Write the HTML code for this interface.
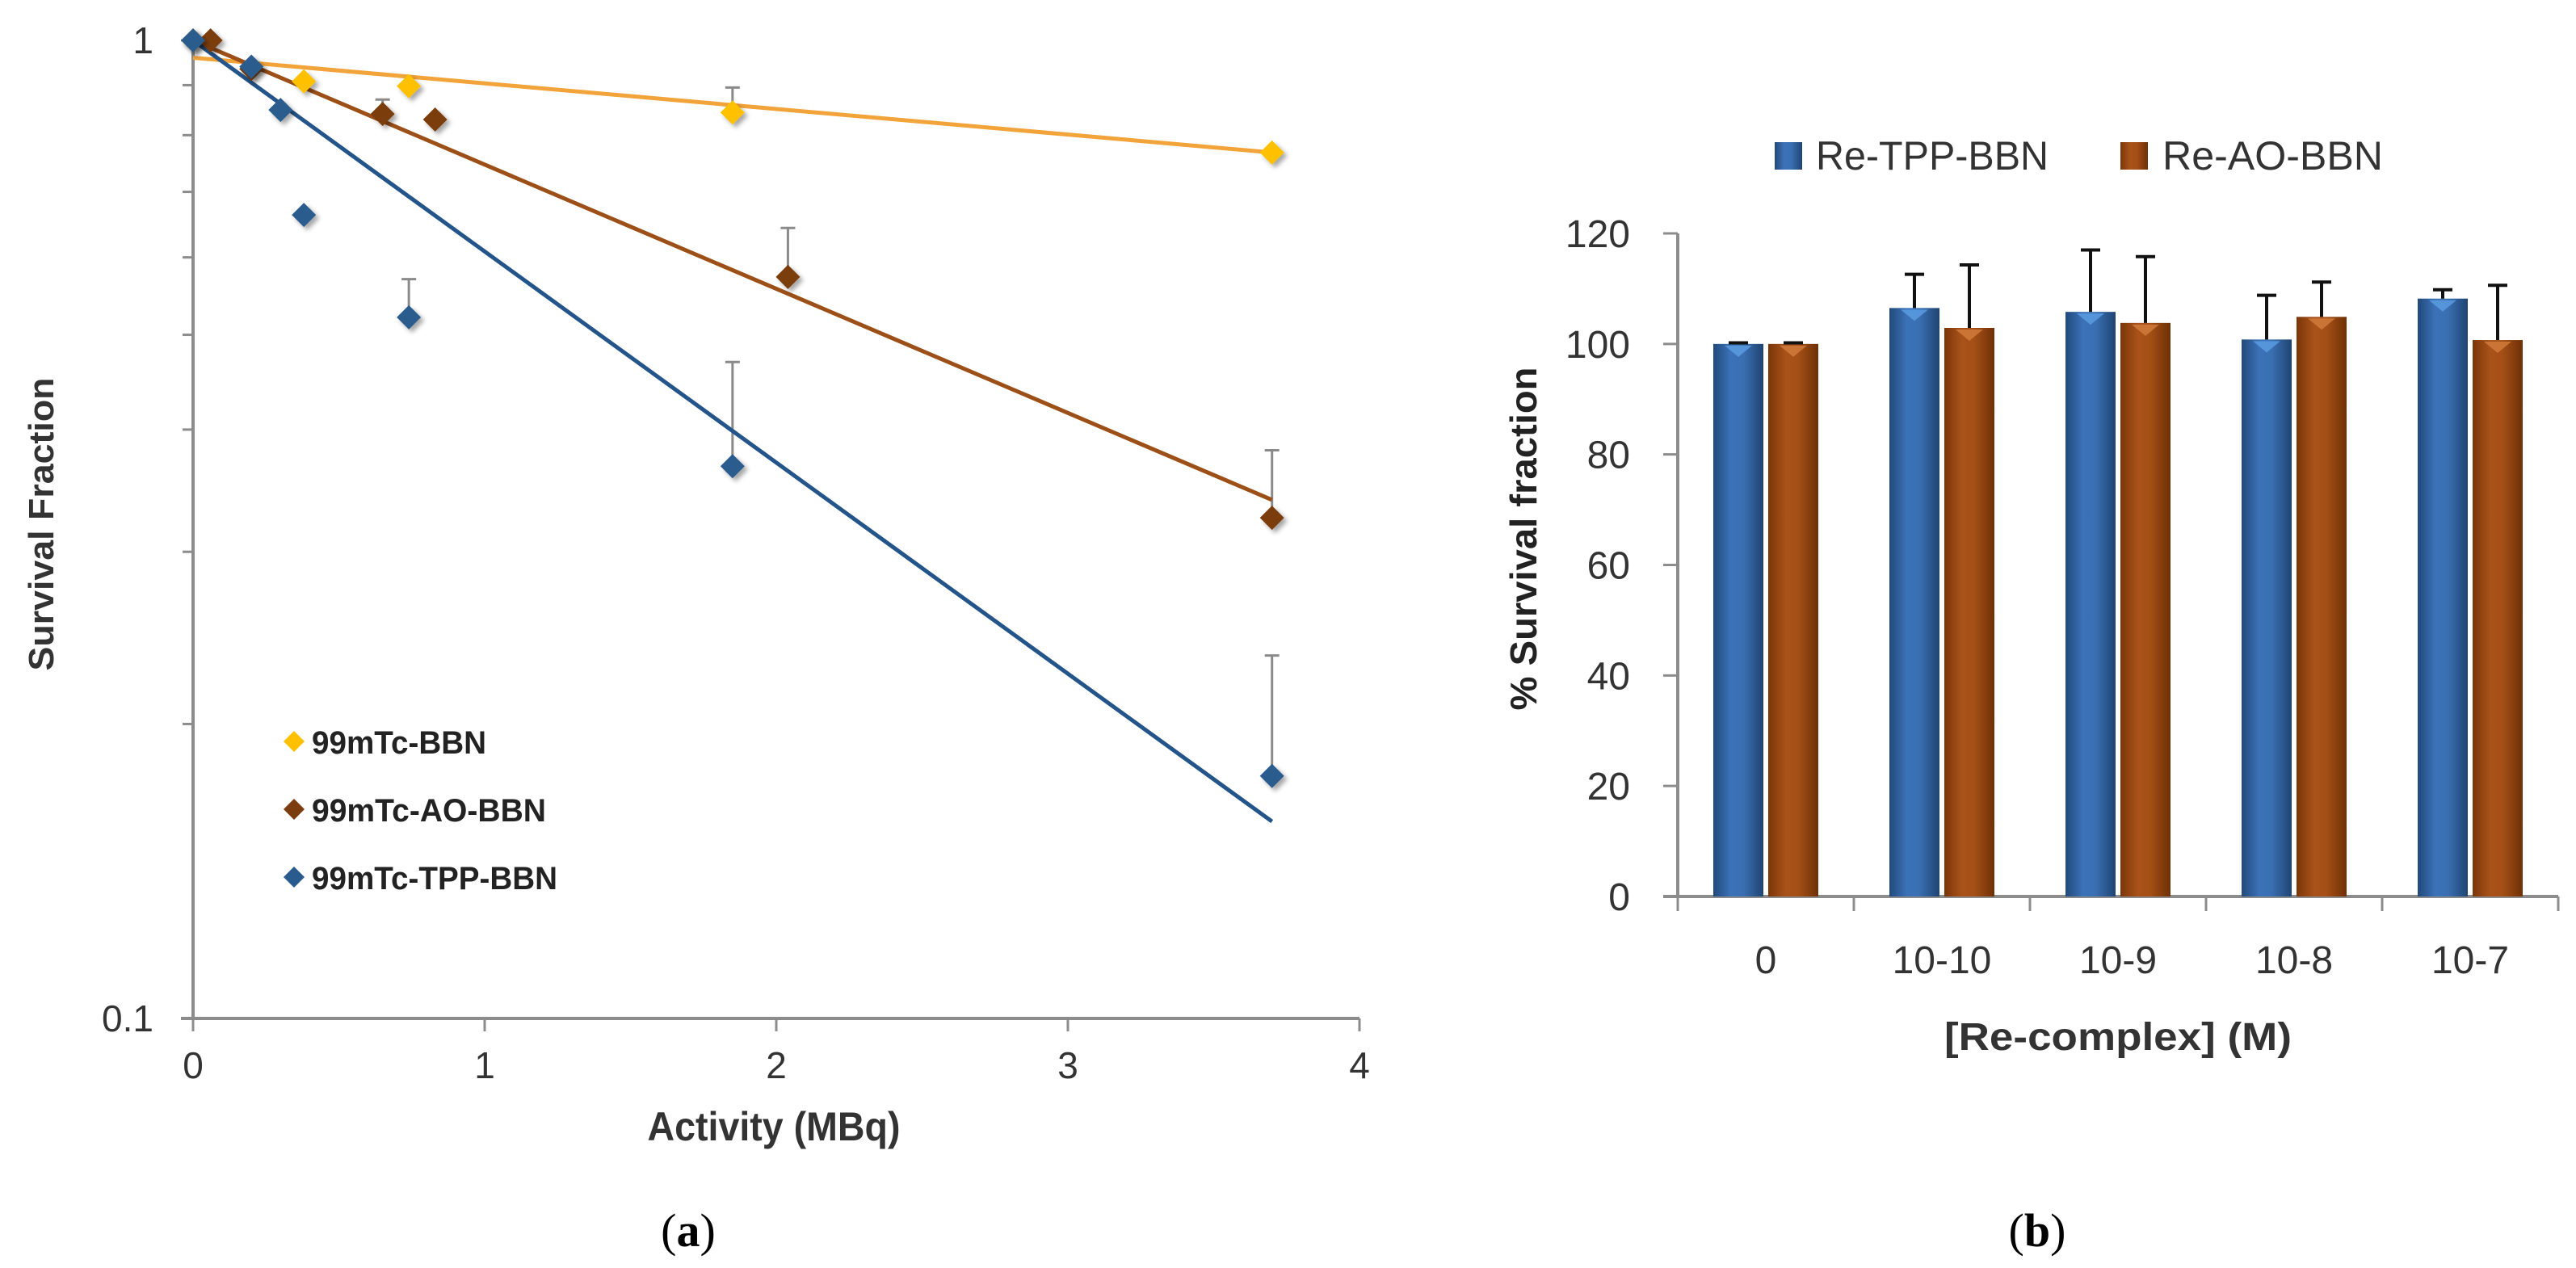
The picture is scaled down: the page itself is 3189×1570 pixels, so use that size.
<!DOCTYPE html>
<html><head><meta charset="utf-8">
<style>
html,body{margin:0;padding:0;background:#fff;}
svg{display:block;}
</style></head>
<body>
<svg id="fig" width="3189" height="1570" viewBox="0 0 3189 1570" xmlns="http://www.w3.org/2000/svg">
<defs>
<linearGradient id="gBlue" x1="0" x2="1" y1="0" y2="0">
<stop offset="0" stop-color="#22497a"/><stop offset="0.35" stop-color="#3b72b8"/><stop offset="0.6" stop-color="#3a6fb2"/><stop offset="1" stop-color="#1f4472"/>
</linearGradient>
<linearGradient id="gOrange" x1="0" x2="1" y1="0" y2="0">
<stop offset="0" stop-color="#7a3608"/><stop offset="0.35" stop-color="#a9521a"/><stop offset="0.6" stop-color="#a44f16"/><stop offset="1" stop-color="#6e3005"/>
</linearGradient>
<filter id="sh" x="-50%" y="-50%" width="200%" height="200%"><feDropShadow dx="4" dy="4" stdDeviation="3" flood-color="#000" flood-opacity="0.35"/></filter>
</defs>
<g id="chartA"></g>
<g id="chartB"></g>
<text x="852" y="1543" text-anchor="middle" font-family="Liberation Serif, serif" font-size="58">(<tspan font-weight="bold">a</tspan>)</text>
<text x="2522" y="1543" text-anchor="middle" font-family="Liberation Serif, serif" font-size="58">(<tspan font-weight="bold">b</tspan>)</text>
</svg>
<script>
// ---- Chart A data ----
const aSeriesNames = ["99mTc-BBN", "99mTc-AO-BBN", "99mTc-TPP-BBN"];
const aBbnX = [0, 0.38, 0.74, 1.85, 3.7];
const aBbnY = [1.0, 0.908, 0.898, 0.844, 0.768];
const aBbnErr = [null, null, null, 0.895, null];
const aAoX = [0.06, 0.2, 0.65, 0.83, 2.04, 3.7];
const aAoY = [1.0, 0.935, 0.841, 0.830, 0.573, 0.325];
const aAoErr = [null, null, 0.87, null, 0.643, 0.381];
const aTppX = [0, 0.2, 0.3, 0.38, 0.74, 1.85, 3.7];
const aTppY = [1.0, 0.94, 0.849, 0.663, 0.521, 0.367, 0.177];
const aTppErr = [null, null, null, null, 0.570, 0.469, 0.235];
const aFitBbn = [[0, 0.96], [3.7, 0.768]];
const aFitAo = [[0, 1.0], [3.7, 0.339]];
const aFitTpp = [[0, 1.0], [3.7, 0.159]];
const aXTicks = [0, 1, 2, 3, 4];
const aYTickLabels = ["1", "0.1"];
const aYMinor = [0.9, 0.8, 0.7, 0.6, 0.5, 0.4, 0.3, 0.2];

// ---- Chart B data ----
const bCategories = ["0", "10-10", "10-9", "10-8", "10-7"];
const bSeriesNames = ["Re-TPP-BBN", "Re-AO-BBN"];
const bTpp = [100, 106.5, 105.8, 100.8, 108.2];
const bTppErr = [100.2, 112.6, 117, 108.8, 109.8];
const bAo = [100, 102.9, 103.8, 104.9, 100.7];
const bAoErr = [100.2, 114.3, 115.8, 111.2, 110.6];
const bYTicks = [0, 20, 40, 60, 80, 100, 120];

const NS = "http://www.w3.org/2000/svg";
function mk(tag, attrs, parent) {
  const e = document.createElementNS(NS, tag);
  for (const k in attrs) e.setAttribute(k, attrs[k]);
  parent.appendChild(e);
  return e;
}

// ===== Chart A =====
(function () {
  const g = document.getElementById('chartA');
  const x0 = 239, xUnit = 361, yTop = 50, dec = 1211;
  const X = v => x0 + v * xUnit;
  const Y = v => yTop - Math.log10(v) * dec;
  const axisCol = "#8c8c8c";
  const yAxis = mk('line', {x1: X(0), y1: Y(1), x2: X(0), y2: Y(0.1), stroke: axisCol, 'stroke-width': 4}, g);
  
  
  const xAxis = mk('line', {x1: X(0) - 15, y1: Y(0.1), x2: X(4), y2: Y(0.1), stroke: axisCol, 'stroke-width': 4}, g);
  
  
  aYMinor.forEach(v => {
    const t = mk('line', {x1: X(0) - 13, y1: Y(v), x2: X(0), y2: Y(v), stroke: axisCol, 'stroke-width': 3}, g);
    
    
  });
  [1, 0.1].forEach((v, i) => {
    mk('line', {x1: X(0) - 15, y1: Y(v), x2: X(0), y2: Y(v), stroke: axisCol, 'stroke-width': 3}, g);
    const t = mk('text', {x: 190, y: Y(v) + 16, 'text-anchor': 'end', 'font-family': 'Liberation Sans, sans-serif', 'font-size': 46, fill: '#333'}, g);
    t.textContent = aYTickLabels[i];
    
    
  });
  aXTicks.forEach(v => {
    mk('line', {x1: X(v), y1: Y(0.1), x2: X(v), y2: Y(0.1) + 16, stroke: axisCol, 'stroke-width': 3}, g);
    const t = mk('text', {x: X(v), y: 1335, 'text-anchor': 'middle', 'font-family': 'Liberation Sans, sans-serif', 'font-size': 46, fill: '#333'}, g);
    t.textContent = String(v);
    
    
  });
  const yt = mk('text', {x: 0, y: 0, transform: 'translate(66,649) rotate(-90)', 'text-anchor': 'middle', 'font-family': 'Liberation Sans, sans-serif', 'font-weight': 'bold', 'font-size': 44, fill: '#333', textLength: 363, lengthAdjust: 'spacingAndGlyphs'}, g);
  yt.textContent = 'Survival Fraction';
  
  
  const xt = mk('text', {x: 958, y: 1412, 'text-anchor': 'middle', 'font-family': 'Liberation Sans, sans-serif', 'font-weight': 'bold', 'font-size': 50, fill: '#333', textLength: 313, lengthAdjust: 'spacingAndGlyphs'}, g);
  xt.textContent = 'Activity (MBq)';
  
  

  const series = [
    {xs: aBbnX, ys: aBbnY, err: aBbnErr, fit: aFitBbn, mc: '#ffc000', lc: '#f2a33a', key: 'bbn'},
    {xs: aAoX, ys: aAoY, err: aAoErr, fit: aFitAo, mc: '#7b3d0e', lc: '#9c4f17', key: 'ao-bbn'},
    {xs: aTppX, ys: aTppY, err: aTppErr, fit: aFitTpp, mc: '#2a5b8e', lc: '#24558a', key: 'tpp-bbn'}
  ];
  series.forEach(s => {
    s.err.forEach((e, i) => {
      if (e == null) return;
      const eg = mk('g', {stroke: '#8a8a8a', 'stroke-width': 3}, g);
      
      
      mk('line', {x1: X(s.xs[i]), y1: Y(s.ys[i]), x2: X(s.xs[i]), y2: Y(e)}, eg);
      mk('line', {x1: X(s.xs[i]) - 9, y1: Y(e), x2: X(s.xs[i]) + 9, y2: Y(e)}, eg);
    });
  });
  series.forEach(s => {
    const l = mk('line', {x1: X(s.fit[0][0]), y1: Y(s.fit[0][1]), x2: X(s.fit[1][0]), y2: Y(s.fit[1][1]), stroke: s.lc, 'stroke-width': 5}, g);
    
    
  });
  series.forEach(s => {
    s.xs.forEach((xv, i) => {
      const cx = X(xv), cy = Y(s.ys[i]), r = 15;
      const p = mk('polygon', {points: `${cx},${cy - r} ${cx + r},${cy} ${cx},${cy + r} ${cx - r},${cy}`, fill: s.mc, filter: 'url(#sh)'}, g);
      
      
    });
  });
  const legY = [918, 1002, 1086];
  const legW = [216, 290, 304];
  series.forEach((s, i) => {
    const lg = mk('g', {}, g);
    
    
    const cx = 364, cy = legY[i], r = 13;
    mk('polygon', {points: `${cx},${cy - r} ${cx + r},${cy} ${cx},${cy + r} ${cx - r},${cy}`, fill: s.mc}, lg);
    const t = mk('text', {x: 386, y: cy + 15, 'font-family': 'Liberation Sans, sans-serif', 'font-weight': 'bold', 'font-size': 40, fill: '#222', textLength: legW[i], lengthAdjust: 'spacingAndGlyphs'}, lg);
    t.textContent = aSeriesNames[i];
  });
})();

// ===== Chart B =====
(function () {
  const g = document.getElementById('chartB');
  const xL = 2077, catW = 218, y0 = 1110, unit = 821 / 120;
  const Y = v => y0 - v * unit;
  const axisCol = "#8c8c8c";
  const ya = mk('line', {x1: xL, y1: Y(120), x2: xL, y2: Y(0) + 2, stroke: axisCol, 'stroke-width': 4}, g);
  
  
  const xa = mk('line', {x1: xL - 18, y1: Y(0), x2: xL + catW * bCategories.length, y2: Y(0), stroke: axisCol, 'stroke-width': 4}, g);
  
  
  bYTicks.forEach(v => {
    mk('line', {x1: xL - 18, y1: Y(v), x2: xL, y2: Y(v), stroke: axisCol, 'stroke-width': 3}, g);
    const t = mk('text', {x: 2018, y: Y(v) + 17, 'text-anchor': 'end', 'font-family': 'Liberation Sans, sans-serif', 'font-size': 48, fill: '#333'}, g);
    t.textContent = String(v);
    
    
  });
  for (let i = 0; i <= bCategories.length; i++) {
    mk('line', {x1: xL + i * catW, y1: Y(0), x2: xL + i * catW, y2: Y(0) + 18, stroke: axisCol, 'stroke-width': 3}, g);
  }
  bCategories.forEach((c, i) => {
    const t = mk('text', {x: xL + i * catW + catW / 2, y: 1205, 'text-anchor': 'middle', 'font-family': 'Liberation Sans, sans-serif', 'font-size': 48, fill: '#333'}, g);
    t.textContent = c;
    
    
  });
  const yt = mk('text', {x: 0, y: 0, transform: 'translate(1902,667) rotate(-90)', 'text-anchor': 'middle', 'font-family': 'Liberation Sans, sans-serif', 'font-weight': 'bold', 'font-size': 46, fill: '#222', textLength: 425, lengthAdjust: 'spacingAndGlyphs'}, g);
  yt.textContent = '% Survival fraction';
  
  
  const xt = mk('text', {x: 2622, y: 1300, 'text-anchor': 'middle', 'font-family': 'Liberation Sans, sans-serif', 'font-weight': 'bold', 'font-size': 48, fill: '#333', textLength: 430, lengthAdjust: 'spacingAndGlyphs'}, g);
  xt.textContent = '[Re-complex] (M)';
  
  

  const barW = 62;
  const sers = [
    {vals: bTpp, err: bTppErr, fill: 'url(#gBlue)', tri: '#5a9be0', off: 44, key: 'tpp'},
    {vals: bAo, err: bAoErr, fill: 'url(#gOrange)', tri: '#d07a3c', off: 112, key: 'ao'}
  ];
  sers.forEach(s => {
    s.vals.forEach((v, i) => {
      const x = xL + i * catW + s.off;
      const b = mk('rect', {x: x, y: Y(v), width: barW, height: Y(0) - Y(v), fill: s.fill}, g);
      
      
      const tr = mk('polygon', {points: `${x + 14},${Y(v) + 2} ${x + barW - 14},${Y(v) + 2} ${x + barW / 2},${Y(v) + 16}`, fill: s.tri, opacity: 0.85}, g);
      
      
      const eg = mk('g', {stroke: '#111', 'stroke-width': 4}, g);
      
      
      const cx = x + barW / 2;
      mk('line', {x1: cx, y1: Y(v), x2: cx, y2: Y(s.err[i])}, eg);
      mk('line', {x1: cx - 12, y1: Y(s.err[i]), x2: cx + 12, y2: Y(s.err[i])}, eg);
    });
  });
  const legX = [2197, 2625];
  const legTx = [2248, 2677];
  const legTw = [288, 273];
  const legFill = ['url(#gBlue)', 'url(#gOrange)'];
  bSeriesNames.forEach((n, i) => {
    const lg = mk('g', {}, g);
    
    
    mk('rect', {x: legX[i], y: 176, width: 34, height: 34, fill: legFill[i]}, lg);
    const t = mk('text', {x: legTx[i], y: 210, 'font-family': 'Liberation Sans, sans-serif', 'font-size': 50, fill: '#333', textLength: legTw[i], lengthAdjust: 'spacingAndGlyphs'}, lg);
    t.textContent = n;
  });
})();
</script>
</body></html>
